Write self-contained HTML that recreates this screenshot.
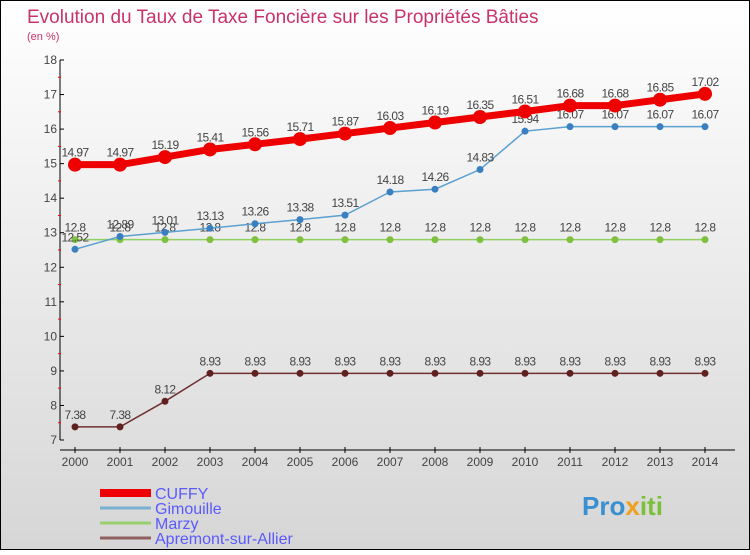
<!DOCTYPE html>
<html><head><meta charset="utf-8"><style>
html,body{margin:0;padding:0}
body{width:750px;height:550px;overflow:hidden;font-family:"Liberation Sans",sans-serif}
</style></head><body>
<svg id="chart" width="750" height="550" xmlns="http://www.w3.org/2000/svg">
<defs><linearGradient id="bg" x1="0" y1="0" x2="0" y2="1"><stop offset="0" stop-color="#ffffff"/><stop offset="1" stop-color="#d6d6d6"/></linearGradient></defs>
<rect x="0.5" y="0.5" width="749" height="549" fill="url(#bg)" stroke="#000"/>
<text x="27" y="23" font-size="19" fill="#c8336a">Evolution du Taux de Taxe Foncière sur les Propriétés Bâties</text>
<text x="27" y="40" font-size="11" fill="#c8336a">(en %)</text>
<g id="axes"></g><g id="series"></g><g id="legend"></g>
<text x="582" y="515" font-size="26" font-weight="bold" fill="#3a8fd0">Pro<tspan fill="#f0a020">x</tspan><tspan fill="#7cc03a">iti</tspan></text>
</svg>
<script>
const years=[2000,2001,2002,2003,2004,2005,2006,2007,2008,2009,2010,2011,2012,2013,2014];
const yTicks=[7,8,9,10,11,12,13,14,15,16,17,18];
const cuffy=[14.97,14.97,15.19,15.41,15.56,15.71,15.87,16.03,16.19,16.35,16.51,16.68,16.68,16.85,17.02];
const gimouille=[12.52,12.89,13.01,13.13,13.26,13.38,13.51,14.18,14.26,14.83,15.94,16.07,16.07,16.07,16.07];
const marzy=[12.8,12.8,12.8,12.8,12.8,12.8,12.8,12.8,12.8,12.8,12.8,12.8,12.8,12.8,12.8];
const apremont=[7.38,7.38,8.12,8.93,8.93,8.93,8.93,8.93,8.93,8.93,8.93,8.93,8.93,8.93,8.93];
const names=["CUFFY","Gimouille","Marzy","Apremont-sur-Allier"];
const NS="http://www.w3.org/2000/svg";
const x=i=>75+i*(630/(years.length-1));
const y=v=>440-(v-7)*(380/11);
function mk(tag,attrs,parent,text){const e=document.createElementNS(NS,tag);for(const k in attrs)e.setAttribute(k,attrs[k]);if(text!==undefined)e.textContent=text;parent.appendChild(e);return e;}
const axes=document.getElementById('axes');
let a=mk('line',{x1:60,y1:y(18),x2:60,y2:y(7),stroke:'#000'},axes);


a=mk('line',{x1:60,y1:450,x2:735,y2:450,stroke:'#000'},axes);


yTicks.forEach(t=>{
 mk('line',{x1:60,y1:y(t),x2:64,y2:y(t),stroke:'#000'},axes);
 const l=mk('text',{x:57,y:y(t)+4,'font-size':12,fill:'#444','text-anchor':'end'},axes,t);
 
 
 if(t<18)mk('line',{x1:58,y1:y(t+0.5),x2:61,y2:y(t+0.5),stroke:'#f00'},axes);
});
years.forEach((yr,i)=>{
 mk('line',{x1:x(i),y1:447,x2:x(i),y2:453,stroke:'#000'},axes);
 const l=mk('text',{x:x(i),y:466,'font-size':12,fill:'#444','text-anchor':'middle'},axes,yr);
 
 
});
const sg=document.getElementById('series');
function series(vals,color,w,r,name,dotColor){
 const g=mk('g',{},sg);
 
 
 mk('polyline',{points:vals.map((v,i)=>x(i)+','+y(v)).join(' '),fill:'none',stroke:color,'stroke-width':w},g);
 vals.forEach((v,i)=>{
  const c=mk('circle',{cx:x(i),cy:y(v),r:r,fill:dotColor},g);
  
  
  const t=mk('text',{x:x(i),y:y(v)-8,'font-size':12,fill:'#444','text-anchor':'middle','letter-spacing':'-0.6'},g,v);
  
  
 });
}
series(marzy,'#90d060',1.5,3.5,'marzy','#80c040');
series(gimouille,'#5aa0d0',1.5,3.5,'gimouille','#3a80c0');
series(apremont,'#703030',1.5,3.5,'apremont','#602020');
series(cuffy,'#ee0000',7,7,'cuffy','#ee0000');
const lg=document.getElementById('legend');
const cols=['#ee0000','#7ab0d0','#98d070','#906060'];const ws=[8,3,3,3];
names.forEach((n,i)=>{
 const yy=493+i*15;
 const li=mk('line',{x1:100,y1:yy,x2:151,y2:yy,stroke:cols[i],'stroke-width':ws[i]},lg);
 
 
 const t=mk('text',{x:155,y:yy+6,'font-size':16,fill:'#5a5aff'},lg,n);
 
 
});
</script>
</body></html>
